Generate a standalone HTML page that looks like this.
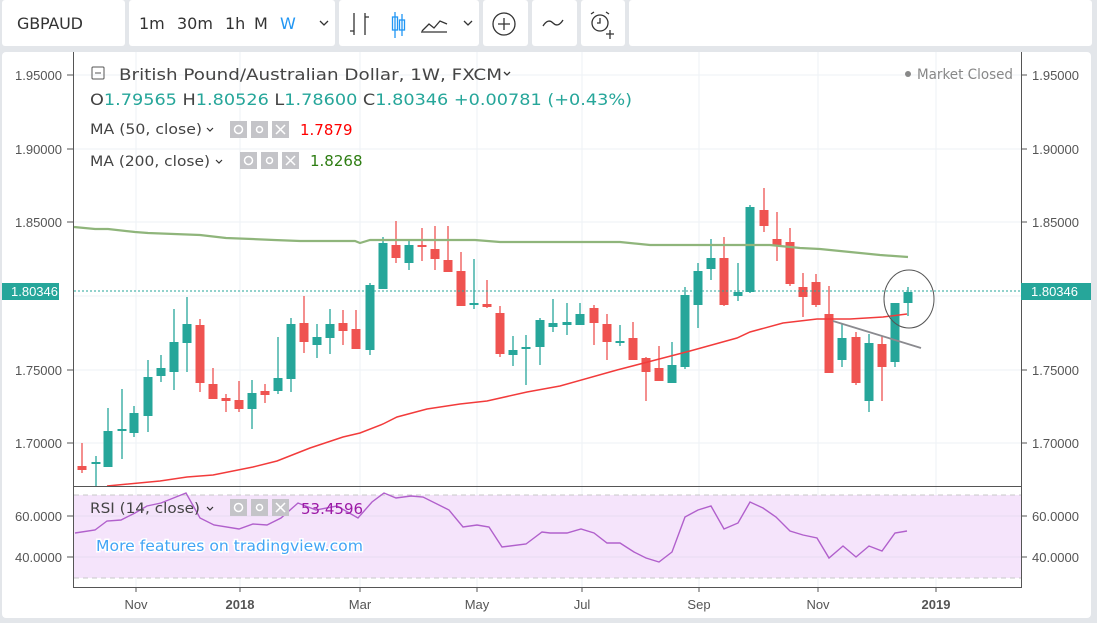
<!DOCTYPE html>
<html><head><meta charset="utf-8"><style>
html,body{margin:0;padding:0;background:#e3e6ea;width:1097px;height:623px;overflow:hidden;font-family:"Liberation Sans",sans-serif}
svg{position:absolute;left:0;top:0}
</style></head><body>
<svg id="s" width="1097" height="623" xmlns="http://www.w3.org/2000/svg" font-family="Liberation Sans, sans-serif">
<rect x="0" y="0" width="1097" height="623" fill="#e3e6ea"/>
<!-- toolbar cells -->
<rect x="2" y="0" width="123" height="46" fill="#fff" rx="3"/>
<rect x="129" y="0" width="206" height="46" fill="#fff" rx="3"/>
<rect x="339" y="0" width="140" height="46" fill="#fff" rx="3"/>
<rect x="483" y="0" width="45" height="46" fill="#fff" rx="3"/>
<rect x="532" y="0" width="45" height="46" fill="#fff" rx="3"/>
<rect x="581" y="0" width="44" height="46" fill="#fff" rx="3"/>
<rect x="629" y="0" width="463" height="46" fill="#fff" rx="3"/>
<text x="17" y="29" font-size="16" fill="#333" font-family="DejaVu Sans, sans-serif" textLength="66">GBPAUD</text>
<g font-size="16" fill="#333" font-family="DejaVu Sans, sans-serif">
<text x="139" y="29">1m</text><text x="177" y="29">30m</text><text x="225" y="29">1h</text><text x="254" y="29">M</text>
<text x="280" y="29" fill="#2196f3">W</text></g>
<g stroke="#333" fill="none" stroke-width="1.3">
<path d="M320 21l4 4 4-4"/>
<path d="M354 13v22M350 31h4M365 13v22M365 17h4M358 22h0"/>
<path d="M395 12v26M402 14v22" stroke="#2196f3"/>
<rect x="392.5" y="17" width="5" height="13" stroke="#2196f3"/><rect x="399.5" y="20" width="5" height="10" stroke="#2196f3"/>
<path d="M422 31l7-7 5 4 6-7 7 3M421 32h26"/>
<path d="M464 21l4 4 4-4"/>
<circle cx="504" cy="24" r="11"/><path d="M504 18v12M498 24h12"/>
<path d="M543 26q5-8 10-3t10-3"/>
<circle cx="600" cy="23" r="8"/><path d="M600 18v5h-3M610 30v9M606 34h8M591 14l3-2M606 12l3 2"/>
</g>
<!-- chart panel -->
<rect x="2" y="52" width="1089" height="566" fill="#fff" rx="4"/>
<g id="grid" stroke="#eef2f6" stroke-width="1"></g>
<rect x="74" y="495" width="947" height="83" fill="#f5e4fb"/>
<line x1="74" y1="495" x2="1021" y2="495" stroke="#c8c8c8" stroke-dasharray="5,4"/>
<line x1="74" y1="578" x2="1021" y2="578" stroke="#c8c8c8" stroke-dasharray="5,4"/>
<line x1="74" y1="516" x2="1021" y2="516" stroke="#e6dcf0"/>
<line x1="74" y1="557" x2="1021" y2="557" stroke="#e6dcf0"/>
<g id="cd"></g>
<polyline id="ma200" fill="none" stroke="#8fb57b" stroke-width="2.2" points="74,227 95,229 108,229 135,232 148,233 174,234 200,235 226,238 252,239 274,240 300,241 355,241 360,243 370,240 475,240 500,242 620,242 650,245 770,245 800,248 820,249 850,252 880,255 908,257"/>
<polyline fill="none" stroke="#f23b3b" stroke-width="1.5" points="107,486 160,481 187,477 213,475 253,467 277,461 310,448 343,437 360,433 383,424 397,417 427,409 460,404 487,401 527,392 560,386 617,370 690,351 737,338 750,332 783,323 817,319 850,319 883,317 907,314"/>
<line x1="833" y1="321" x2="921" y2="348" stroke="#8a8a8f" stroke-width="1.8"/>
<line x1="74" y1="291" x2="1021" y2="291" stroke="#26a69a" stroke-dasharray="2,2"/>
<ellipse cx="909" cy="299" rx="25" ry="29" fill="none" stroke="#555" stroke-width="1"/>
<polyline fill="none" stroke="#b160cc" stroke-width="1.4" points="75,533 95,530 107,521 121,520 135,513 147,506 161,503 186,493 200,518 214,525 239,529 253,524 267,525 281,518 298,503 316,510 337,506 358,518 372,502 384,493 396,498 411,496 423,497 449,510 463,527 477,525 489,527 502,547 526,544 542,532 550,533 567,533 581,529 594,533 607,543 620,543 634,552 646,558 659,562 672,552 685,517 698,510 711,506 724,529 738,523 750,502 763,508 776,517 790,531 803,535 817,538 829,558 843,546 856,557 869,546 882,551 895,533 907,531"/>
<!-- axes -->
<line x1="73.5" y1="52" x2="73.5" y2="588" stroke="#555"/>
<line x1="1021.5" y1="52" x2="1021.5" y2="588" stroke="#555"/>
<line x1="73" y1="486.5" x2="1022" y2="486.5" stroke="#555"/>
<line x1="73" y1="587.5" x2="1022" y2="587.5" stroke="#555"/>
<g id="ax" font-size="13" fill="#555"></g>
<!-- price labels -->
<rect x="2" y="283" width="57" height="17" fill="#26a69a"/>
<text x="11" y="296" font-size="13" fill="#fff">1.80346</text>
<rect x="1021" y="283" width="70" height="17" fill="#26a69a"/>
<text x="1031" y="296" font-size="13" fill="#fff">1.80346</text>
<!-- legend -->
<rect x="92" y="67" width="12" height="12" fill="none" stroke="#555" rx="1"/><line x1="95" y1="73" x2="101" y2="73" stroke="#555"/>
<text x="119" y="80" font-size="16" fill="#444" font-family="DejaVu Sans, sans-serif" textLength="383" lengthAdjust="spacingAndGlyphs">British Pound/Australian Dollar, 1W, FXCM</text>
<path d="M504 72l3 3 3-3" stroke="#333" fill="none" stroke-width="1.3"/>
<text x="90" y="105" font-size="16" fill="#26a69a" font-family="DejaVu Sans, sans-serif" textLength="542" lengthAdjust="spacingAndGlyphs"><tspan fill="#444">O</tspan>1.79565  <tspan fill="#444">H</tspan>1.80526  <tspan fill="#444">L</tspan>1.78600  <tspan fill="#444">C</tspan>1.80346  +0.00781 (+0.43%)</text>
<text x="90" y="134" font-size="14" fill="#444" font-family="DejaVu Sans, sans-serif" textLength="112" lengthAdjust="spacingAndGlyphs">MA (50, close)</text>
<path d="M207 128l3 3 3-3" stroke="#333" fill="none" stroke-width="1.2"/>
<g fill="#c4c4c8"><rect x="230" y="121" width="17" height="17"/><rect x="251" y="121" width="17" height="17"/><rect x="272" y="121" width="17" height="17"/>
<rect x="240" y="152" width="17" height="17"/><rect x="261" y="152" width="17" height="17"/><rect x="282" y="152" width="17" height="17"/>
<rect x="230" y="499" width="17" height="17"/><rect x="251" y="499" width="17" height="17"/><rect x="272" y="499" width="17" height="17"/></g>
<g fill="none" stroke="#fff" stroke-width="1.5">
<circle cx="238.5" cy="129.5" r="4"/><circle cx="259.5" cy="129.5" r="3"/><path d="M276 125l9 9M285 125l-9 9"/>
<circle cx="248.5" cy="160.5" r="4"/><circle cx="269.5" cy="160.5" r="3"/><path d="M286 156l9 9M295 156l-9 9"/>
<circle cx="238.5" cy="507.5" r="4"/><circle cx="259.5" cy="507.5" r="3"/><path d="M276 503l9 9M285 503l-9 9"/></g>
<text x="300" y="135" font-size="15" fill="#f00" font-family="DejaVu Sans, sans-serif">1.7879</text>
<text x="90" y="166" font-size="14" fill="#444" font-family="DejaVu Sans, sans-serif" textLength="120" lengthAdjust="spacingAndGlyphs">MA (200, close)</text>
<path d="M216 160l3 3 3-3" stroke="#333" fill="none" stroke-width="1.2"/>
<text x="310" y="166" font-size="15" fill="#2e7d12" font-family="DejaVu Sans, sans-serif">1.8268</text>
<circle cx="908" cy="74" r="3" fill="#888"/>
<text x="917" y="79" font-size="14" fill="#888" font-family="DejaVu Sans, sans-serif" textLength="96" lengthAdjust="spacingAndGlyphs">Market Closed</text>
<text x="90" y="513" font-size="14" fill="#444" font-family="DejaVu Sans, sans-serif" textLength="110" lengthAdjust="spacingAndGlyphs">RSI (14, close)</text>
<path d="M207 507l3 3 3-3" stroke="#333" fill="none" stroke-width="1.2"/>
<text x="301" y="514" font-size="15" fill="#9c1aa6" font-family="DejaVu Sans, sans-serif">53.4596</text>
<text x="96" y="551" font-size="15" fill="#42a5f5" stroke="#fff" stroke-width="3" paint-order="stroke" font-family="DejaVu Sans, sans-serif" textLength="267" lengthAdjust="spacingAndGlyphs">More features on tradingview.com</text>
</svg>
<script>
var NS="http://www.w3.org/2000/svg";
function el(p,t,a,txt){var e=document.createElementNS(NS,t);for(var k in a)e.setAttribute(k,a[k]);if(txt)e.textContent=txt;document.getElementById(p).appendChild(e);return e;}
var xs=[136,240,360,477,582,699,818,936],lb=["Nov","2018","Mar","May","Jul","Sep","Nov","2019"];
xs.forEach(function(x,i){el("grid","line",{x1:x,y1:52,x2:x,y2:587});el("ax","line",{x1:x,y1:587,x2:x,y2:592,stroke:"#555"});
var t=el("ax","text",{x:x,y:609,"text-anchor":"middle"},lb[i]);if(lb[i].length==4)t.setAttribute("font-weight","bold");});
[[75,"1.95000"],[149,"1.90000"],[222,"1.85000"],[370,"1.75000"],[443,"1.70000"]].forEach(function(p){
el("grid","line",{x1:74,y1:p[0],x2:1021,y2:p[0]});
el("ax","line",{x1:67,y1:p[0],x2:73,y2:p[0],stroke:"#555"});el("ax","line",{x1:1021,y1:p[0],x2:1027,y2:p[0],stroke:"#555"});
el("ax","text",{x:62,y:p[0]+5,"text-anchor":"end"},p[1]);el("ax","text",{x:1032,y:p[0]+5},p[1]);});
el("grid","line",{x1:74,y1:296,x2:1021,y2:296});
[[516,"60.0000"],[557,"40.0000"]].forEach(function(p){
el("ax","line",{x1:67,y1:p[0],x2:73,y2:p[0],stroke:"#555"});el("ax","line",{x1:1021,y1:p[0],x2:1027,y2:p[0],stroke:"#555"});
el("ax","text",{x:62,y:p[0]+5,"text-anchor":"end"},p[1]);el("ax","text",{x:1032,y:p[0]+5},p[1]);});
var C=[[82,466,470,443,473,'r'],[96,462,464,456,487,'g'],[108,431,467,408,467,'g'],[122,429,431,389,459,'g'],[134,413,433,406,437,'g'],[148,377,416,360,432,'g'],[161,368,376,355,382,'g'],[174,342,372,309,390,'g'],[187,324,343,297,372,'g'],[200,325,383,319,392,'r'],[213,384,399,368,399,'r'],[226,398,401,394,412,'r'],[239,400,409,381,412,'r'],[252,393,409,380,429,'g'],[265,391,395,384,403,'r'],[278,378,391,337,394,'g'],[291,324,379,318,392,'g'],[304,323,342,296,353,'r'],[317,337,345,324,358,'g'],[330,324,338,309,354,'g'],[343,323,331,310,345,'r'],[356,329,349,310,349,'r'],[370,285,350,283,355,'g'],[383,243,289,237,289,'g'],[396,245,258,221,263,'r'],[409,245,263,240,270,'g'],[422,245,247,228,261,'r'],[435,249,259,226,270,'r'],[448,260,272,226,272,'r'],[461,271,306,252,306,'r'],[474,303,305,259,309,'g'],[487,304,307,280,308,'r'],[500,313,354,306,357,'r'],[513,350,355,336,366,'g'],[526,347,349,335,385,'g'],[540,320,347,318,365,'g'],[553,323,327,299,332,'g'],[567,322,325,303,335,'g'],[580,314,325,303,325,'g'],[594,308,323,305,345,'r'],[607,324,342,314,360,'r'],[620,341,343,325,346,'g'],[633,338,360,322,360,'r'],[646,358,372,357,401,'r'],[659,368,381,346,381,'r'],[672,365,383,342,383,'g'],[685,295,367,287,369,'g'],[698,271,305,263,328,'g'],[711,258,269,239,280,'g'],[724,258,305,237,306,'r'],[738,292,296,263,301,'g'],[750,207,292,205,293,'g'],[764,210,226,188,232,'r'],[777,239,246,212,261,'r'],[790,242,284,228,286,'r'],[803,287,297,273,317,'r'],[816,282,305,274,307,'r'],[829,314,373,286,373,'r'],[842,338,360,324,367,'g'],[856,337,383,332,385,'r'],[869,343,401,334,412,'g'],[882,344,367,336,401,'r'],[895,303,362,303,367,'g'],[908,292,303,287,316,'g']];
C.forEach(function(c){var col=c[5]=='g'?'#26a69a':'#ef5350';
el("cd","line",{x1:c[0],y1:c[3],x2:c[0],y2:Math.min(c[4],486),stroke:col,"stroke-width":1.3});
el("cd","rect",{x:c[0]-4.5,y:c[1],width:9,height:Math.max(c[2]-c[1],1.5),fill:col});});
</script>
</body></html>
